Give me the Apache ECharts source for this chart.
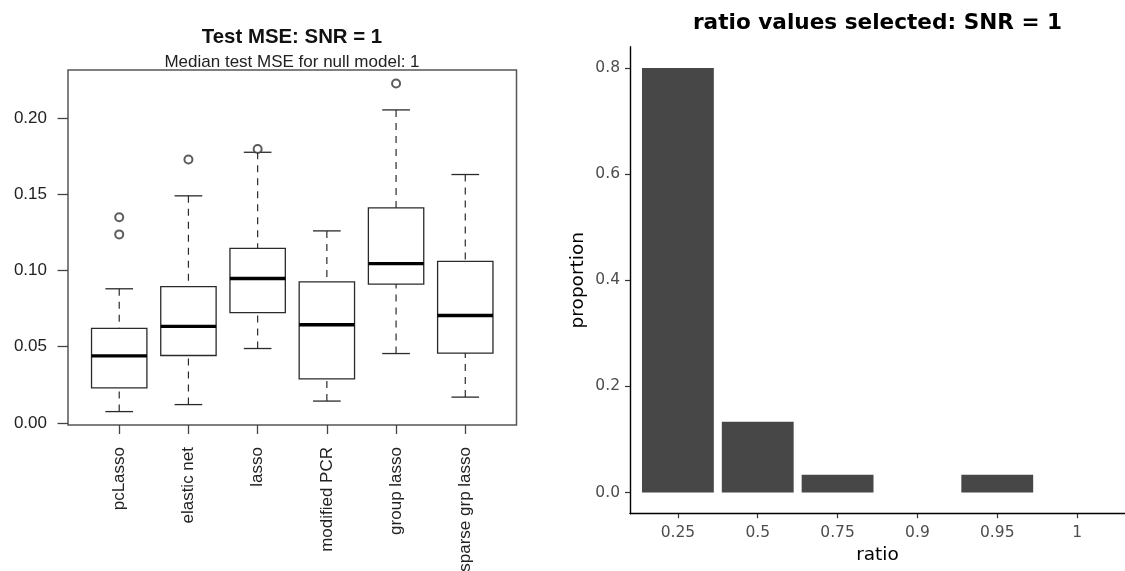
<!DOCTYPE html>
<html>
<head>
<meta charset="utf-8">
<script src="https://cdn.jsdelivr.net/npm/echarts@6/dist/echarts.min.js"></script>
<style>
  html, body { margin: 0; padding: 0; background: #ffffff; }
  #chart { width: 1125px; height: 571px; }
</style>
</head>
<body>
<div id="chart"></div>
<script>
// ---- Test MSE box plots (one box per method) ----
const methods = ['pcLasso', 'elastic net', 'lasso', 'modified PCR', 'group lasso', 'sparse grp lasso'];
const whiskerLow  = [0.0074, 0.0120, 0.0488, 0.0143, 0.0455, 0.0169];
const quartile1   = [0.0230, 0.0442, 0.0723, 0.0289, 0.0911, 0.0458];
const medians     = [0.0440, 0.0633, 0.0948, 0.0644, 0.1045, 0.0705];
const quartile3   = [0.0620, 0.0894, 0.1145, 0.0926, 0.1411, 0.1060];
const whiskerHigh = [0.0880, 0.1490, 0.1776, 0.1260, 0.2054, 0.1630];
// [method index, value]
const outliers = [[0, 0.1350], [0, 0.1237], [1, 0.1728], [2, 0.1798], [4, 0.2227]];
const mseTicks = [0, 0.05, 0.10, 0.15, 0.20];

// ---- Selected ratio proportions ----
const ratioLabels = ['0.25', '0.5', '0.75', '0.9', '0.95', '1'];
const proportions = [0.8, 0.1333, 0.0333, 0, 0.0333, 0];
const proportionTicks = [0, 0.2, 0.4, 0.6, 0.8];

const positions = methods.map((m, i) => i + 1);
const ratioPositions = ratioLabels.map((r, i) => i + 1);

const leftFont = 'Liberation Sans, Arial, Helvetica, sans-serif';
const rightFont = 'DejaVu Sans, sans-serif';

const chart = echarts.init(document.getElementById('chart'), null, { renderer: 'canvas' });

function renderBox(params, api) {
  const x = api.value(0);
  const lo = api.value(1), q1 = api.value(2), med = api.value(3), q3 = api.value(4), hi = api.value(5);
  const bw = api.size([0.8, 0])[0];
  const half = bw / 2;
  const cap = bw / 4;
  const px = api.coord([x, 0])[0];
  const y = v => api.coord([x, v])[1];
  const stroke = '#2a2a2a';
  return {
    type: 'group',
    children: [
      { type: 'line', shape: { x1: px, y1: y(hi), x2: px, y2: y(q3) },
        style: { stroke: stroke, lineWidth: 1.2, lineDash: [7, 6] } },
      { type: 'line', shape: { x1: px, y1: y(lo), x2: px, y2: y(q1) },
        style: { stroke: stroke, lineWidth: 1.2, lineDash: [7, 6] } },
      { type: 'line', shape: { x1: px - cap, y1: y(hi), x2: px + cap, y2: y(hi) },
        style: { stroke: stroke, lineWidth: 1.3 } },
      { type: 'line', shape: { x1: px - cap, y1: y(lo), x2: px + cap, y2: y(lo) },
        style: { stroke: stroke, lineWidth: 1.3 } },
      { type: 'rect', shape: { x: px - half, y: y(q3), width: bw, height: y(q1) - y(q3) },
        style: { fill: 'rgba(0,0,0,0)', stroke: stroke, lineWidth: 1.3 } },
      { type: 'line', shape: { x1: px - half, y1: y(med), x2: px + half, y2: y(med) },
        style: { stroke: '#000000', lineWidth: 3.4 } }
    ]
  };
}

function renderBar(params, api) {
  const x = api.value(0);
  const v = api.value(1);
  const w = api.size([0.9, 0])[0];
  const top = api.coord([x, v]);
  const base = api.coord([x, 0]);
  return {
    type: 'rect',
    shape: { x: top[0] - w / 2, y: top[1], width: w, height: base[1] - top[1] },
    style: { fill: '#474747' }
  };
}

const option = {
  animation: false,
  backgroundColor: '#ffffff',
  graphic: [
    { type: 'text', x: 292, y: 37.5,
      style: { text: 'Test MSE: SNR = 1', font: 'bold 20.4px ' + leftFont, fill: '#111',
               align: 'center', verticalAlign: 'middle' } },
    { type: 'text', x: 292, y: 62.5,
      style: { text: 'Median test MSE for null model: 1', font: '17px ' + leftFont, fill: '#222',
               align: 'center', verticalAlign: 'middle' } },
    { type: 'text', x: 877.5, y: 23.5,
      style: { text: 'ratio values selected: SNR = 1', font: 'bold 21.6px ' + rightFont, fill: '#000',
               align: 'center', verticalAlign: 'middle' } }
  ],
  grid: [
    { left: 68, top: 70, width: 448.5, height: 355, show: true, outerBoundsMode: 'none',
      borderColor: '#555555', borderWidth: 1.5, backgroundColor: 'transparent' },
    { left: 630, top: 46.7, width: 495, height: 467, outerBoundsMode: 'none' }
  ],
  xAxis: [
    {
      type: 'value', gridIndex: 0, min: 0.26, max: 6.74,
      splitLine: { show: false },
      axisLine: { show: false, onZero: false },
      axisTick: { show: true, customValues: positions, length: 9,
                  lineStyle: { color: '#444', width: 1.3 } },
      axisLabel: {
        customValues: positions, rotate: 90, margin: 22,
        formatter: v => methods[Math.round(v) - 1] || '',
        fontFamily: leftFont, fontSize: 17, color: '#222'
      }
    },
    {
      type: 'value', gridIndex: 1, min: 0.4, max: 6.6,
      splitLine: { show: false },
      axisLine: { show: true, onZero: false, lineStyle: { color: '#000', width: 1.4 } },
      axisTick: { show: true, customValues: ratioPositions, length: 4.5,
                  lineStyle: { color: '#333', width: 1.2 } },
      axisLabel: {
        customValues: ratioPositions, margin: 11,
        formatter: v => ratioLabels[Math.round(v) - 1] || '',
        fontFamily: rightFont, fontSize: 15.5, color: '#4d4d4d'
      },
      name: 'ratio', nameLocation: 'middle', nameGap: 32,
      nameTextStyle: { fontFamily: rightFont, fontSize: 18.5, color: '#000' }
    }
  ],
  yAxis: [
    {
      type: 'value', gridIndex: 0, min: -0.0014, max: 0.2316,
      splitLine: { show: false },
      axisLine: { show: false, onZero: false },
      axisTick: { show: true, customValues: mseTicks, length: 10.5,
                  lineStyle: { color: '#444', width: 1.3 } },
      axisLabel: {
        customValues: mseTicks, margin: 21,
        formatter: v => v.toFixed(2),
        fontFamily: leftFont, fontSize: 17, color: '#222'
      }
    },
    {
      type: 'value', gridIndex: 1, min: -0.04, max: 0.84,
      splitLine: { show: false },
      axisLine: { show: true, onZero: false, lineStyle: { color: '#000', width: 1.4 } },
      axisTick: { show: true, customValues: proportionTicks, length: 5,
                  lineStyle: { color: '#333', width: 1.2 } },
      axisLabel: {
        customValues: proportionTicks, margin: 10,
        formatter: v => v.toFixed(1),
        fontFamily: rightFont, fontSize: 15.5, color: '#4d4d4d'
      },
      name: 'proportion', nameLocation: 'middle', nameGap: 42,
      nameTextStyle: { fontFamily: rightFont, fontSize: 18.5, color: '#000' }
    }
  ],
  series: [
    {
      type: 'custom', name: 'test MSE', xAxisIndex: 0, yAxisIndex: 0,
      renderItem: renderBox,
      encode: { x: 0, y: [1, 2, 3, 4, 5] },
      data: methods.map((m, i) => [i + 1, whiskerLow[i], quartile1[i], medians[i], quartile3[i], whiskerHigh[i]]),
      silent: true
    },
    {
      type: 'scatter', name: 'outliers', xAxisIndex: 0, yAxisIndex: 0,
      symbol: 'emptyCircle', symbolSize: 8,
      itemStyle: { color: '#333', borderWidth: 1.2 },
      data: outliers.map(o => [o[0] + 1, o[1]]),
      silent: true
    },
    {
      type: 'custom', name: 'proportion', xAxisIndex: 1, yAxisIndex: 1,
      renderItem: renderBar,
      encode: { x: 0, y: 1 },
      data: proportions.map((p, i) => [i + 1, p]),
      silent: true
    }
  ]
};

chart.setOption(option);
</script>
</body>
</html>
